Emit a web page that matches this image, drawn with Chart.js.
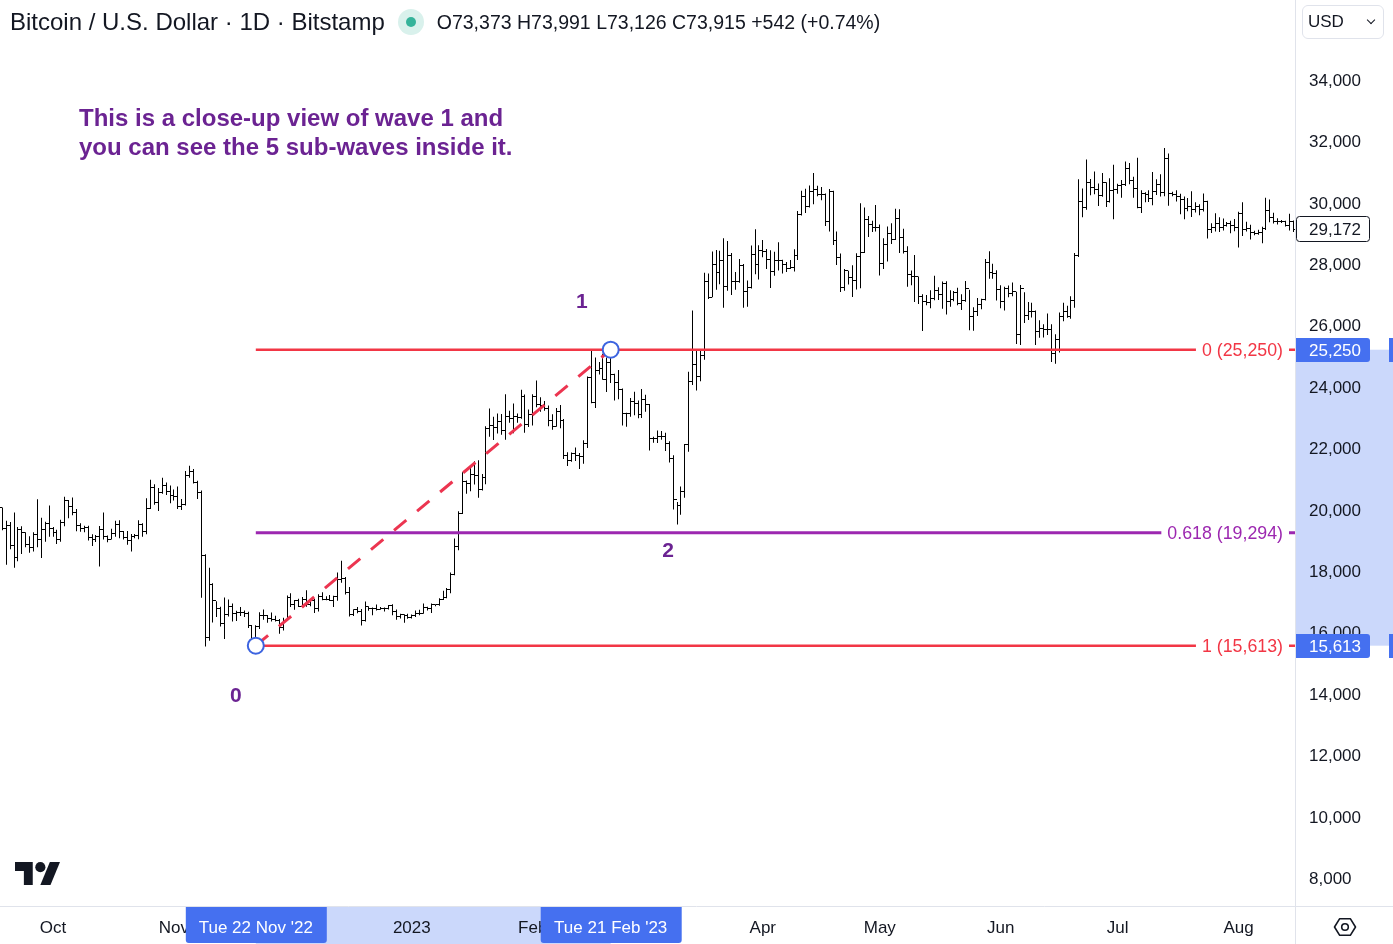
<!DOCTYPE html>
<html lang="en">
<head>
  <meta charset="UTF-8" />
  <title>Bitcoin / U.S. Dollar · 1D · Bitstamp</title>
  <script src="https://cdn.jsdelivr.net/npm/chart.js"></script>
  <style>
    body { margin: 0; background: #fff; font-family: 'Liberation Sans', Arial, sans-serif; color: #131722; }
    .wrap { position: relative; width: 1393px; height: 944px; overflow: hidden; }
    #chart { position: absolute; left: 0; top: 0; }
    .hdr { position: absolute; left: 10px; top: 0; height: 44px; display: flex; align-items: center; white-space: nowrap; }
    .hdr .title { font-size: 24px; }
    .hdr .dot { width: 26px; height: 26px; border-radius: 50%; background: #d9f1ec; margin: 0 13px 0 13px; position: relative; }
    .hdr .dot::after { content: ''; position: absolute; left: 8px; top: 8px; width: 10px; height: 10px; border-radius: 50%; background: #35b39a; }
    .hdr .ohlc { font-size: 19.5px; }
    .usd { position: absolute; left: 1302px; top: 5px; width: 82px; height: 34px; border: 1px solid #e0e3eb; border-radius: 6px; box-sizing: border-box; font-size: 17px; line-height: 32px; padding-left: 5px; }
    .usd .caret { position: absolute; right: 9px; top: 11px; width: 5px; height: 5px; border-right: 1.5px solid #131722; border-bottom: 1.5px solid #131722; transform: rotate(45deg); }
    .logo { position: absolute; left: 15px; top: 862px; }
    .gear { position: absolute; left: 1333px; top: 917px; }
  </style>
</head>
<body>
  <div class="wrap">
    <canvas id="chart" width="1393" height="944"></canvas>
    <div class="hdr">
      <span class="title">Bitcoin / U.S. Dollar · 1D · Bitstamp</span>
      <span class="dot"></span>
      <span class="ohlc">O73,373 H73,991 L73,126 C73,915 +542 (+0.74%)</span>
    </div>
    <div class="usd">USD<span class="caret"></span></div>
    <svg class="logo" width="45" height="23" viewBox="0 4 35.5 18">
      <path d="M14 22H7V11H0V4h14v18z" fill="#131722" />
      <circle cx="20" cy="8" r="4" fill="#131722" />
      <path d="M28 22h-8l7.5-18h8L28 22z" fill="#131722" />
    </svg>
    <svg class="gear" width="24" height="20" viewBox="-12 -10 24 20">
      <polygon points="-10.5,0 -5.3,-8.3 5.3,-8.3 10.5,0 5.3,8.3 -5.3,8.3" fill="none" stroke="#131722" stroke-width="1.6" stroke-linejoin="round" />
      <circle cx="0" cy="0" r="3.3" fill="none" stroke="#131722" stroke-width="1.6" />
    </svg>
  </div>

  <script>
    // days are counted from 1 Oct 2022 (day 0); first bar is 17 Sep 2022
    const firstBarDay = -14;
    const firstOpen = 19800;

    // daily bars, 17 Sep 2022 .. 15 Aug 2023 (open of each bar = previous close)
    const closes = [
      // Sep 17-30
      20110,19420,19540,18880,18500,19400,19300,18920,18800,19230,19080,19410,19590,19420,
      // Oct
      19310,19060,19630,20340,20160,19960,19530,19420,19450,19130,19060,19160,19380,19180,19070,19270,
      19550,19330,19130,19040,19170,19210,19570,19340,20090,20770,20290,20600,20820,20630,20490,
      // Nov
      20480,20150,20210,21150,21300,20920,20600,18540,15880,17600,17070,16810,16330,16620,16890,
      16660,16700,16700,16650,16280,15780,16230,16600,16580,16510,16460,16440,16210,16440,17170,
      // Dec
      16970,17090,16890,17110,16970,17090,16840,17230,17130,17130,17090,17210,17780,17800,17360,16630,
      16780,16740,16440,16900,16820,16830,16780,16840,16830,16920,16710,16550,16630,16600,16540,
      // Jan
      16610,16670,16670,16850,16830,16950,16940,17120,17190,17440,17940,18850,19930,20950,20880,21180,
      21140,20690,21080,22680,22780,22710,22920,22620,23060,23010,23080,23030,23740,22830,23130,
      // Feb
      23730,23480,23430,23330,22940,22760,23250,22960,21800,21630,21860,21790,21780,22200,
      24330,23530,24570,24630,24290,24830,24440,24190,23940,23170,23160,23550,23490,23140,
      // Mar
      23640,23470,22350,22360,22420,22410,22200,21700,20360,20170,20630,22160,24200,24770,24380,25050,
      27460,26960,28040,27760,28170,27300,28330,27480,27480,27990,27130,27260,28350,28030,28480,
      // Apr
      28460,28190,27800,28170,28170,28030,27910,27940,28330,29660,30230,29900,30390,30480,30310,
      30320,29440,30390,28820,28250,27270,27820,27590,27520,28300,28420,29480,29330,29240,29230,
      // May
      28070,28670,29030,28850,29530,28900,28450,27700,27630,27630,26990,26810,26790,26930,27170,27040,
      27400,26830,26890,27120,26750,26850,27230,26330,26480,26720,26870,28080,27750,27720,27220,
      // Jun
      26820,27250,27080,27140,25750,27240,26350,26510,26480,25850,25940,25900,25920,25130,25590,
      26340,26510,26340,26850,28310,30090,29890,30690,30540,30470,30270,30690,30080,30440,30480,
      // Jul
      30590,30620,31160,30770,30500,29890,30350,30290,30170,30410,30620,30380,31470,30330,30290,30250,
      30140,29860,29910,29800,29910,29800,30080,29180,29230,29350,29220,29310,29360,29280,29230,
      // Aug 1-15
      29700,29180,29190,29080,29040,29060,29190,29770,29570,29440,29410,29420,29290,29410,29172
    ];
    const highs = [
      20170,20110,19680,19640,19950,19480,19500,19310,19180,19310,20380,19780,19650,20180,
      19480,19390,19710,20460,20360,20440,20060,19600,19520,19520,19240,19220,19510,19950,19200,19420,
      19680,19700,19350,19350,19250,19250,19700,19600,20410,21020,20870,20750,21080,20930,20830,
      20700,20800,20390,21300,21470,21370,20980,20670,18590,18150,17650,17060,16880,17180,17120,
      16990,16750,16870,16760,16720,16290,16280,16700,16790,16610,16690,16590,16480,16520,17250,
      17320,17100,17140,17200,17420,17110,17130,17290,17350,17220,17260,17240,18000,18380,17850,17520,
      16800,16870,16810,17050,16900,16860,16950,16870,16860,16940,16960,16790,16650,16640,16650,
      16630,16760,16780,16990,16880,16990,16960,17160,17400,17490,18000,19100,19990,21260,20990,21460,
      21620,21650,21200,22760,23340,23070,23170,23160,23800,23260,23500,23170,23950,23790,23300,
      23800,24250,23700,23580,23430,23150,23350,23450,22990,21910,21900,22070,21890,22300,
      24380,25250,25000,24850,25120,25000,25250,24470,24590,23990,23200,23680,23880,23600,
      23970,23780,23480,22420,22620,22600,22550,22270,21810,20290,20800,22180,24530,26530,25230,25220,
      27760,27730,28450,28500,28470,28880,28790,28400,27780,28200,28040,27500,28640,29170,28650,
      28820,28530,28490,28440,28750,28180,28110,28170,28520,29770,30430,30490,30600,31000,30590,
      30550,30340,30480,30430,29100,28380,27880,27820,28000,28390,30020,29880,29600,29450,29960,
      29330,28880,29260,29370,29840,29820,29190,28620,27830,28330,27630,27060,27030,27190,27660,27280,
      27470,27480,27190,27160,27270,27060,27490,27200,26630,26930,26910,28200,28460,28050,27840,
      27350,27300,27340,27440,27140,27360,27120,26800,26780,26530,26210,26080,26430,26080,25750,
      26460,26780,26680,26990,28400,30800,30500,31440,30810,31050,30660,31000,30700,30830,31270,
      30650,30780,31380,31330,30880,31500,30440,30380,30440,31040,30800,30960,31820,31640,30390,30440,
      30330,30240,30190,30410,30050,29990,30340,30100,29370,29690,29560,29520,29410,29450,29510,
      29740,30050,29420,29320,29120,29160,29250,30200,30140,29710,29530,29470,29450,29680,29460
    ];
    const lows = [
      19700,19370,18250,18750,18150,18360,18600,18820,18640,18680,18820,18470,19000,19160,
      19160,18920,19000,19500,19760,19860,19340,19320,19310,19040,18860,18990,18190,19070,18980,19070,
      19160,19110,19070,18900,18680,19110,19080,19160,19240,20060,20200,20000,20560,20520,20250,
      20340,20060,20030,20180,21080,20890,20390,17170,15590,15770,16370,16550,16240,15830,16560,
      16400,16420,16580,16550,16190,15640,15613,16160,16460,16360,16400,16400,16000,16110,16430,
      16870,16780,16870,16880,16880,16900,16680,16730,17090,17090,17070,16870,17080,17660,17280,16560,
      16580,16670,16270,16400,16750,16600,16760,16780,16730,16790,16600,16460,16500,16360,16490,
      16500,16550,16600,16650,16760,16680,16900,16910,17100,17160,17320,17910,18720,19900,20560,20640,
      20860,20430,20670,20870,22420,22310,22520,22480,22320,22870,22530,22870,23000,22550,22730,
      22780,23380,23230,23260,22760,22640,22740,22690,21690,21460,21600,21630,21370,21540,
      22050,23510,23350,24440,24270,23870,24170,23600,23640,22780,22740,23070,23120,23020,
      23030,23230,21970,22220,22210,22320,21950,21580,20050,19560,19880,20430,21930,24100,23920,24220,
      24920,26900,26960,27200,27380,26620,27170,27030,27200,27430,26620,26650,27240,27710,27540,
      28260,27880,27260,27660,27830,27730,27780,27880,27800,28170,29620,29700,29880,29990,30250,
      30120,29280,29100,28660,28010,27130,27170,27370,26970,27210,27250,28400,28920,29080,29100,
      27670,27880,28120,28690,28820,28400,28380,27300,27350,26800,26740,25860,26700,26600,26860,26870,
      26580,26400,26650,26830,26700,26540,26810,25880,25870,26350,26570,26850,27560,27560,26850,
      26600,26530,26960,26990,25440,25400,26120,26220,26300,25400,25640,25650,25730,24850,24790,
      25160,26180,26290,26260,26620,28270,29560,29810,30280,30310,29930,30230,29900,30040,29500,
      30330,30200,30580,30640,30200,29860,29700,30050,30060,29950,30290,30240,30250,29940,30250,30080,
      29660,29500,29760,29570,29720,29630,29750,28870,29050,29100,29080,29130,29260,29040,29110,
      28580,28950,29100,28840,28980,28990,28720,29150,29400,29360,29330,29380,29260,29130,29080
    ];

    // axes
    const monthDays = [0, 31, 61, 92, 123, 151, 182, 212, 243, 273, 304];
    const monthLabels = ['Oct', 'Nov', 'Dec', '2023', 'Feb', 'Mar', 'Apr', 'May', 'Jun', 'Jul', 'Aug'];
    const priceTicks = [8000, 10000, 12000, 14000, 16000, 18000, 20000, 22000, 24000, 26000, 28000, 30000, 32000, 34000];
    const xMin = -13.59, xMax = 318.46;
    const yMin = 7137, yMax = 36637;

    // drawing: fib retracement and wave points
    const wave0 = { day: 52, price: 15613, label: "Tue 22 Nov '22" };
    const wave1 = { day: 143, price: 25250, label: "Tue 21 Feb '23" };
    const fibLevels = [25250, 19294, 15613];
    const fibNames = ['0 (25,250)', '0.618 (19,294)', '1 (15,613)'];
    const fibColors = ['#f23645', '#9c27b0', '#f23645'];
    const waveLabels = [
      { text: '0', day: 46.9, price: 13970 },
      { text: '1', day: 135.6, price: 26800 },
      { text: '2', day: 157.7, price: 18680 }
    ];
    const note = { day: 6.67, price: 32735, lines: ['This is a close-up view of wave 1 and', 'you can see the 5 sub-waves inside it.'] };
    const lastPrice = 29172;

    const FONT = '"Liberation Sans", Arial, sans-serif';
    const purple = '#6b2392';
    const blue = '#4570f0';
    const band = '#cbd8fb';

    const days = closes.map((c, i) => firstBarDay + i);
    const opens = closes.map((c, i) => i === 0 ? firstOpen : closes[i - 1]);

    // keep 1px OHLC strokes on whole pixels
    const snap = {
      id: 'snap',
      afterDatasetsUpdate(chart) {
        const bars = chart.getDatasetMeta(0).data;
        const op = chart.getDatasetMeta(1).data;
        const cl = chart.getDatasetMeta(2).data;
        bars.forEach((b, i) => {
          const col = Math.floor(b.x);
          b.x = col + 0.5;
          op[i].x = col - 1;
          op[i].y = Math.floor(op[i].y) + 0.5;
          cl[i].x = col + 2;
          cl[i].y = Math.floor(cl[i].y) + 0.5;
        });
      }
    };

    const overlay = {
      id: 'overlay',
      beforeDraw(chart) {
        const { ctx, chartArea: a, scales: { x, y } } = chart;
        ctx.save();
        ctx.fillStyle = '#fff';
        ctx.fillRect(0, 0, chart.width, chart.height);
        ctx.fillStyle = band;
        const x0 = x.getPixelForValue(wave0.day), x1 = x.getPixelForValue(wave1.day);
        ctx.fillRect(x0, a.bottom + 1, x1 - x0, chart.height - a.bottom);
        const y0 = y.getPixelForValue(wave1.price), y1 = y.getPixelForValue(wave0.price);
        ctx.fillRect(a.right + 1, y0, chart.width - a.right, y1 - y0);
        ctx.restore();
      },
      afterDatasetsDraw(chart) {
        const { ctx, chartArea: a, scales: { x, y } } = chart;
        ctx.save();
        // fib level labels
        ctx.font = '17.8px ' + FONT;
        ctx.textAlign = 'right';
        ctx.textBaseline = 'middle';
        fibLevels.forEach((lvl, i) => {
          const py = y.getPixelForValue(lvl);
          const w = ctx.measureText(fibNames[i]).width;
          const right = a.right - 12;
          ctx.fillStyle = '#fff';
          ctx.fillRect(right - w - 6, py - 10, w + 12, 20);
          ctx.fillStyle = fibColors[i];
          ctx.fillText(fibNames[i], right, py + 1);
        });
        // wave numbers
        ctx.font = 'bold 21px ' + FONT;
        ctx.textAlign = 'center';
        ctx.fillStyle = purple;
        waveLabels.forEach(w => ctx.fillText(w.text, x.getPixelForValue(w.day), y.getPixelForValue(w.price)));
        // note
        ctx.font = 'bold 24px ' + FONT;
        ctx.textAlign = 'left';
        const nx = x.getPixelForValue(note.day), ny = y.getPixelForValue(note.price);
        note.lines.forEach((t, i) => ctx.fillText(t, nx, ny + i * 29));
        ctx.restore();
      },
      afterDraw(chart) {
        const { ctx, chartArea: a, scales: { x, y } } = chart;
        ctx.save();
        ctx.strokeStyle = '#e0e3eb';
        ctx.lineWidth = 1;
        ctx.beginPath();
        ctx.moveTo(a.right + 0.5, 0); ctx.lineTo(a.right + 0.5, chart.height);
        ctx.moveTo(0, a.bottom + 0.5); ctx.lineTo(chart.width, a.bottom + 0.5);
        ctx.stroke();

        ctx.font = '17px ' + FONT;
        ctx.textBaseline = 'middle';
        // price labels on the axis
        [wave1.price, wave0.price].forEach(p => {
          const py = Math.round(y.getPixelForValue(p));
          ctx.fillStyle = blue;
          ctx.beginPath(); ctx.roundRect(a.right + 1, py - 12, 74, 24, [0, 3, 3, 0]); ctx.fill();
          ctx.fillRect(chart.width - 4, py - 12, 4, 24);
          ctx.fillStyle = '#fff'; ctx.textAlign = 'left';
          ctx.fillText(p.toLocaleString('en-US'), a.right + 14, py + 1);
        });
        const ly = Math.round(y.getPixelForValue(lastPrice));
        ctx.fillStyle = '#fff';
        ctx.strokeStyle = '#131722';
        ctx.beginPath(); ctx.roundRect(a.right + 1.5, ly - 12.5, 73, 25, 3); ctx.fill(); ctx.stroke();
        ctx.fillStyle = '#131722';
        ctx.fillText(lastPrice.toLocaleString('en-US'), a.right + 14, ly + 1);
        // date labels on the time axis
        ctx.textAlign = 'center';
        [wave0, wave1].forEach(w => {
          const px = x.getPixelForValue(w.day);
          ctx.fillStyle = blue;
          ctx.beginPath(); ctx.roundRect(px - 70, a.bottom + 1, 141, 36, [0, 0, 3, 3]); ctx.fill();
          ctx.fillStyle = '#fff';
          ctx.fillText(w.label, px, a.bottom + 22);
        });
        ctx.restore();
      }
    };

    // no extra room for edge labels: the plot fills the canvas up to the axes
    const noPad = s => { s.paddingLeft = 0; s.paddingRight = 0; s.paddingTop = 0; s.paddingBottom = 0; };

    Chart.defaults.font.family = FONT;
    Chart.defaults.color = '#131722';

    new Chart(document.getElementById('chart'), {
      type: 'bar',
      data: {
        datasets: [
          {
            type: 'bar', order: 6,
            data: days.map((d, i) => ({ x: d, y: [lows[i], highs[i]] })),
            backgroundColor: '#000', barThickness: 1, inflateAmount: 0, grouped: false
          },
          {
            type: 'line', order: 5, showLine: false,
            data: days.map((d, i) => ({ x: d, y: opens[i] })),
            pointStyle: 'line', pointRadius: 1, pointBorderWidth: 1, pointBorderColor: '#000'
          },
          {
            type: 'line', order: 5, showLine: false,
            data: days.map((d, i) => ({ x: d, y: closes[i] })),
            pointStyle: 'line', pointRadius: 1, pointBorderWidth: 1, pointBorderColor: '#000'
          },
          ...fibLevels.map((lvl, i) => ({
            type: 'line', order: 3,
            data: [{ x: wave0.day, y: lvl }, { x: xMax, y: lvl }],
            borderColor: fibColors[i], borderWidth: i === 1 ? 3 : 2.5, pointRadius: 0
          })),
          {
            type: 'line', order: 2,
            data: [{ x: wave0.day, y: wave0.price }, { x: wave1.day, y: wave1.price }],
            borderColor: '#ec3550', borderWidth: 3, borderDash: [16, 14], pointRadius: 0
          },
          {
            type: 'line', order: 1, showLine: false,
            data: [{ x: wave0.day, y: wave0.price }, { x: wave1.day, y: wave1.price }],
            pointRadius: 8, pointBorderWidth: 2, pointBorderColor: '#3d64e0', pointBackgroundColor: '#fff'
          }
        ]
      },
      options: {
        responsive: false,
        animation: false,
        events: [],
        layout: { padding: 0, autoPadding: false },
        plugins: { legend: { display: false }, tooltip: { enabled: false } },
        scales: {
          x: {
            type: 'linear', min: xMin, max: xMax, offset: false,
            grid: { display: false, drawTicks: false },
            border: { display: false },
            afterBuildTicks: s => { s.ticks = monthDays.map(v => ({ value: v })); },
            afterFit: s => { s.height = 38; noPad(s); },
            ticks: {
              autoSkip: false, maxRotation: 0, padding: 12,
              font: { size: 17 }, color: '#131722',
              callback: v => monthLabels[monthDays.indexOf(v)]
            }
          },
          y: {
            type: 'linear', position: 'right', min: yMin, max: yMax,
            grid: { display: false, drawTicks: false },
            border: { display: false },
            afterBuildTicks: s => { s.ticks = priceTicks.map(v => ({ value: v })); },
            afterFit: s => { s.width = 98; noPad(s); },
            ticks: {
              padding: 14, font: { size: 17 }, color: '#131722',
              callback: v => v.toLocaleString('en-US')
            }
          }
        }
      },
      plugins: [snap, overlay]
    });
  </script>
</body>
</html>
